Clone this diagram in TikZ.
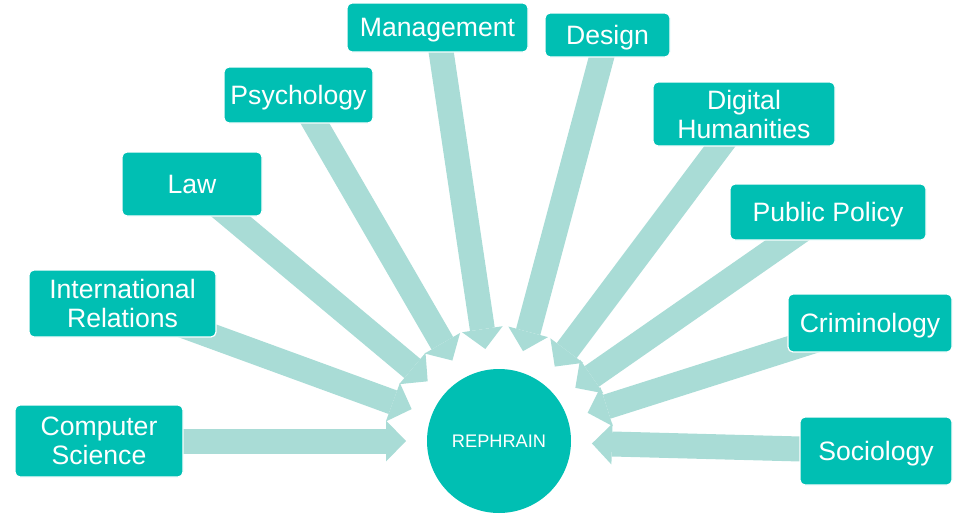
\documentclass[tikz,border=0pt]{standalone}
\usepackage{fontspec}
\setmainfont{Liberation Sans}
\usetikzlibrary{arrows.meta}
\definecolor{boxteal}{RGB}{0,191,179}
\definecolor{arrteal}{RGB}{169,220,214}
\pgfdeclarelayer{background}
\pgfsetlayers{background,main}
\begin{document}
\begin{tikzpicture}[x=0.5pt,y=-0.5pt,
  field/.style={fill=boxteal, draw=white, line width=0.6pt, rounded corners=2.5pt,
    text=white, align=center, inner sep=0pt,
    font=\fontsize{13.3}{14.5}\selectfont},
  oneline/.style={field, text depth=0pt},
  flow/.style={draw=arrteal, line width=12.5pt, shorten >=46.5pt,
    -{Triangle[length=10pt,width=20.5pt,line width=0pt,fill=arrteal]}},
  hubnode/.style={circle, fill=boxteal, minimum size=72pt, inner sep=0pt,
    text=white, font=\fontsize{9.1}{11}\selectfont}]
\useasboundingbox (0,0) rectangle (955,514);

\node[hubnode] (hub) at (499,441) {REPHRAIN};

\node[field, minimum width=84pt, minimum height=36pt] (cs) at (99,441) {Computer\\Science};
\node[field, minimum width=93.5pt, minimum height=33.5pt] (ir) at (122.5,303.5) {International\\Relations};
\node[oneline, minimum width=70pt, minimum height=32pt] (law) at (192,184) {Law};
\node[oneline, minimum width=74.5pt, minimum height=28pt] (psy) at (298.5,95) {Psychology};
\node[oneline, minimum width=90.5pt, minimum height=24.5pt] (man) at (437.5,27.5) {Management};
\node[oneline, minimum width=62.5pt, minimum height=22pt] (des) at (607.5,35) {Design};
\node[field, minimum width=91pt, minimum height=32pt] (dh) at (744,114) {Digital\\Humanities};
\node[oneline, minimum width=98pt, minimum height=28pt] (pp) at (828,212) {Public Policy};
\node[oneline, minimum width=82pt, minimum height=29pt] (cri) at (870,323) {Criminology};
\node[oneline, minimum width=76pt, minimum height=34pt] (soc) at (876,451) {Sociology};

\begin{pgfonlayer}{background}
\foreach \n in {cs,ir,law,psy,man,des,dh,pp,cri,soc}
  \draw[flow] (\n.center) -- (hub.center);
\end{pgfonlayer}
\end{tikzpicture}
\end{document}
